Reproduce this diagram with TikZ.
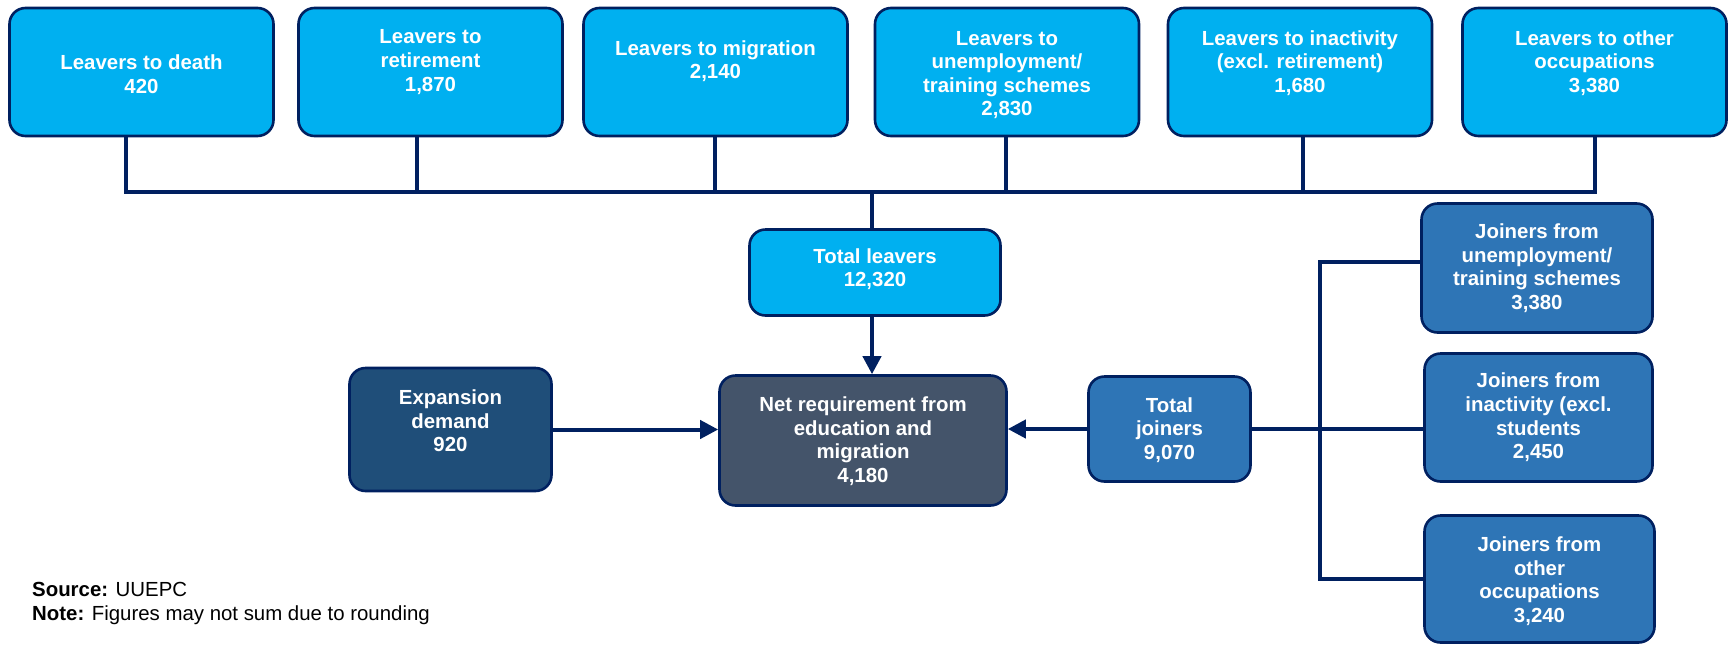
\documentclass[tikz,border=0pt]{standalone}
\usepackage{fontspec}
\setmainfont{Liberation Sans}
\usetikzlibrary{arrows.meta}
\definecolor{navy}{RGB}{0,32,96}
\definecolor{lightb}{RGB}{0,176,240}
\definecolor{midb}{RGB}{46,117,182}
\definecolor{darkb}{RGB}{31,78,121}
\definecolor{slate}{RGB}{68,84,106}
\begin{document}
\begin{tikzpicture}[x=1pt,y=-1pt,
  box/.style={draw=navy, line width=2.6pt, rounded corners=16pt, inner sep=0pt},
  topbox/.style={box, fill=lightb, minimum width=264pt, minimum height=128pt},
  txt/.style={text=white, font=\fontsize{20.4}{23.6}\selectfont\bfseries, align=center, inner sep=0pt},
  conn/.style={draw=navy, line width=4pt},
  arr/.style={conn, -{Triangle[length=18pt,width=18pt]}},
  notetxt/.style={text=black, font=\fontsize{20.4}{23.6}\selectfont, align=left, inner sep=0pt}
]
\useasboundingbox (0,0) rectangle (1729,646);

% top boxes
\node[topbox] (b1) at (141.5,72) {};
\node[topbox] (b2) at (430.5,72) {};
\node[topbox] (b3) at (715.5,72) {};
\node[topbox] (b4) at (1007,72) {};
\node[topbox] (b5) at (1300,72) {};
\node[topbox] (b6) at (1594.5,72) {};
\node[txt] (t1) at (141.5,74) {Leavers to death\\420};
\node[txt] (t2) at (430.5,62) {Leavers to\\retirement\\1,870};
\node[txt] (t3) at (715.5,61) {Leavers to migration\\2,140};
\node[txt] (t4) at (1007,75) {Leavers to\\unemployment/\\training schemes\\2,830};
\node[txt] (t5) at (1300,63) {Leavers to inactivity\\(excl. retirement)\\1,680};
\node[txt] (t6) at (1594.5,63) {Leavers to other\\occupations\\3,380};

% middle boxes
\node[box, fill=lightb, minimum width=251pt, minimum height=86pt] (tl) at (875,272.5) {};
\node[txt] (tlt) at (875,269) {Total leavers\\12,320};
\node[box, fill=slate, minimum width=287pt, minimum height=130pt] (net) at (863,440.5) {};
\node[txt] (nett) at (863,441) {Net requirement from\\education and\\migration\\4,180};
\node[box, fill=darkb, minimum width=202pt, minimum height=123pt] (exp) at (450.5,429.5) {};
\node[txt] (expt) at (450.5,421) {Expansion\\demand\\920};
\node[box, fill=midb, minimum width=162pt, minimum height=105pt] (tj) at (1169.5,429) {};
\node[txt] (tjt) at (1169.5,430) {Total\\joiners\\9,070};

% joiners boxes
\node[box, fill=midb, minimum width=231pt, minimum height=129pt] (j1) at (1537,268) {};
\node[txt] (j1t) at (1537,268) {Joiners from\\unemployment/\\training schemes\\3,380};
\node[box, fill=midb, minimum width=228pt, minimum height=128pt] (j2) at (1538.5,417.5) {};
\node[txt] (j2t) at (1538.5,417.5) {Joiners from\\inactivity (excl.\\students\\2,450};
\node[box, fill=midb, minimum width=230pt, minimum height=127pt] (j3) at (1539.5,579) {};
\node[txt] (j3t) at (1539.5,581) {Joiners from\\other\\occupations\\3,240};

% bus coordinates
\coordinate (k1) at (126,192);
\coordinate (k2) at (417,192);
\coordinate (k3) at (715,192);
\coordinate (k4) at (1006,192);
\coordinate (k5) at (1303,192);
\coordinate (k6) at (1595,192);
\coordinate (kc) at (872,192);
\coordinate (v1) at (1320,262);
\coordinate (v3) at (1320,579);

\draw[conn] (b1.south -| k1) -- (k1);
\draw[conn] (b2.south -| k2) -- (k2);
\draw[conn] (b3.south -| k3) -- (k3);
\draw[conn] (b4.south -| k4) -- (k4);
\draw[conn] (b5.south -| k5) -- (k5);
\draw[conn] (b6.south -| k6) -- (k6);
\draw[conn, line cap=rect] (k1) -- (k6);
\draw[conn] (kc) -- (tl.north -| kc);
\draw[arr] (tl.south -| kc) -- (net.north -| kc);
\draw[arr] (exp.east) -- (exp.east -| net.west);
\draw[arr] (tj.west) -- (tj.west -| net.east);
\draw[conn] (tj.east) -- (tj.east -| j2.west);
\draw[conn] (j1.west |- v1) -- (v1) -- (v3) -- (j3.west |- v3);

% source note
\node[notetxt, anchor=north west] (src) at (32,582) {\textbf{Source:} UUEPC\\\textbf{Note:} Figures may not sum due to rounding};
\end{tikzpicture}
\end{document}
